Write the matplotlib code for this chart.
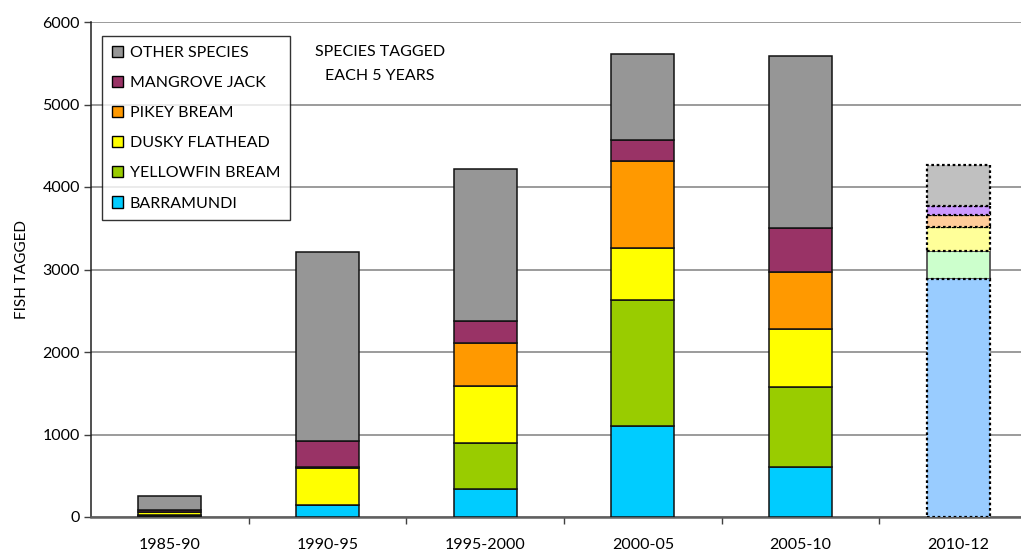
import matplotlib
matplotlib.use("Agg")
import matplotlib.pyplot as plt
from matplotlib.patches import Patch
import numpy as np

plt.rcParams['font.family'] = ['Lato', 'DejaVu Sans']

periods = ["1985-90", "1990-95", "1995-2000", "2000-05", "2005-10", "2010-12"]
species = ["BARRAMUNDI", "YELLOWFIN BREAM", "DUSKY FLATHEAD",
           "PIKEY BREAM", "MANGROVE JACK", "OTHER SPECIES"]

barramundi = [15, 145, 340, 1100, 610, 2890]
yellowfin_bream = [15, 5, 560, 1525, 960, 335]
dusky_flathead = [25, 440, 690, 640, 705, 290]
pikey_bream = [8, 15, 525, 1050, 690, 140]
mangrove_jack = [25, 320, 255, 260, 540, 115]
other_species = [162, 2290, 1850, 1035, 2080, 495]

series = [barramundi, yellowfin_bream, dusky_flathead,
          pikey_bream, mangrove_jack, other_species]

colors = ["#00CCFF", "#99CC00", "#FFFF00", "#FF9900", "#993366", "#969696"]
# partial period (2010-12) drawn in pale tints with dotted outlines
pale_colors = ["#99CCFF", "#CCFFCC", "#FFFF99", "#FFCC99", "#CC99FF", "#C0C0C0"]

fig = plt.figure(figsize=(10.21, 5.56), dpi=100)
ax = fig.add_axes([91 / 1021, 39 / 556, 946 / 1021, 495 / 556])

x = np.arange(len(periods))
width = 0.4
bottom = np.zeros(len(periods))
for k, (vals, col, pale) in enumerate(zip(series, colors, pale_colors)):
    vals = np.array(vals, dtype=float)
    for i in range(len(periods)):
        if i == len(periods) - 1:
            if k == 1:
                ax.bar(x[i], vals[i], width, bottom=bottom[i], color=pale,
                       edgecolor="#505050", linewidth=1.3, zorder=3)
            else:
                ax.bar(x[i], vals[i], width, bottom=bottom[i], color=pale,
                       edgecolor="black", linewidth=1.6,
                       linestyle=(0, (1.2, 1.2)), zorder=4)
        else:
            ax.bar(x[i], vals[i], width, bottom=bottom[i], color=col,
                   edgecolor="#111111", linewidth=1.1, zorder=3)
    bottom += vals

ax.set_xlim(-0.5, len(periods) - 0.5)
ax.set_ylim(0, 6000)
ax.set_yticks(np.arange(0, 6001, 1000))
ax.set_xticks(x)
ax.set_xticklabels(periods, fontsize=11.5)
ax.set_xticks(np.arange(0.5, len(periods) - 0.5, 1), minor=True)
ax.tick_params(axis="x", which="major", length=0, pad=15)
ax.tick_params(axis="x", which="minor", length=5, width=1, color="#404040")
ax.tick_params(axis="y", length=5, width=1, color="#404040", labelsize=11.5, pad=3)

ax.yaxis.grid(True, color="#808080", linewidth=1.1, zorder=0)
ax.set_axisbelow(True)
for s in ["top", "right"]:
    ax.spines[s].set_visible(False)
ax.spines["left"].set_color("#202020")
ax.spines["left"].set_linewidth(1.1)
ax.spines["bottom"].set_color("#606060")
ax.spines["bottom"].set_linewidth(1.8)

ax.set_ylabel("FISH TAGGED", fontsize=11, labelpad=10)

handles = [Patch(facecolor=c, edgecolor="black", linewidth=1.0, label=s)
           for s, c in zip(species, colors)][::-1]
leg = ax.legend(handles=handles, loc="upper left",
                bbox_to_anchor=(11 / 946, 1 - 14 / 495),
                fontsize=11.5, frameon=True, fancybox=False,
                edgecolor="black", handlelength=0.7, handleheight=0.7,
                handletextpad=0.45, labelspacing=1.0, borderpad=0.6,
                borderaxespad=0)
leg.get_frame().set_linewidth(1.0)

fig.text(380 / 1021, 1 - 64 / 556, "SPECIES TAGGED\nEACH 5 YEARS",
         fontsize=11.5, ha="center", va="center", linespacing=1.95)

fig.savefig("out.png", dpi=100)
